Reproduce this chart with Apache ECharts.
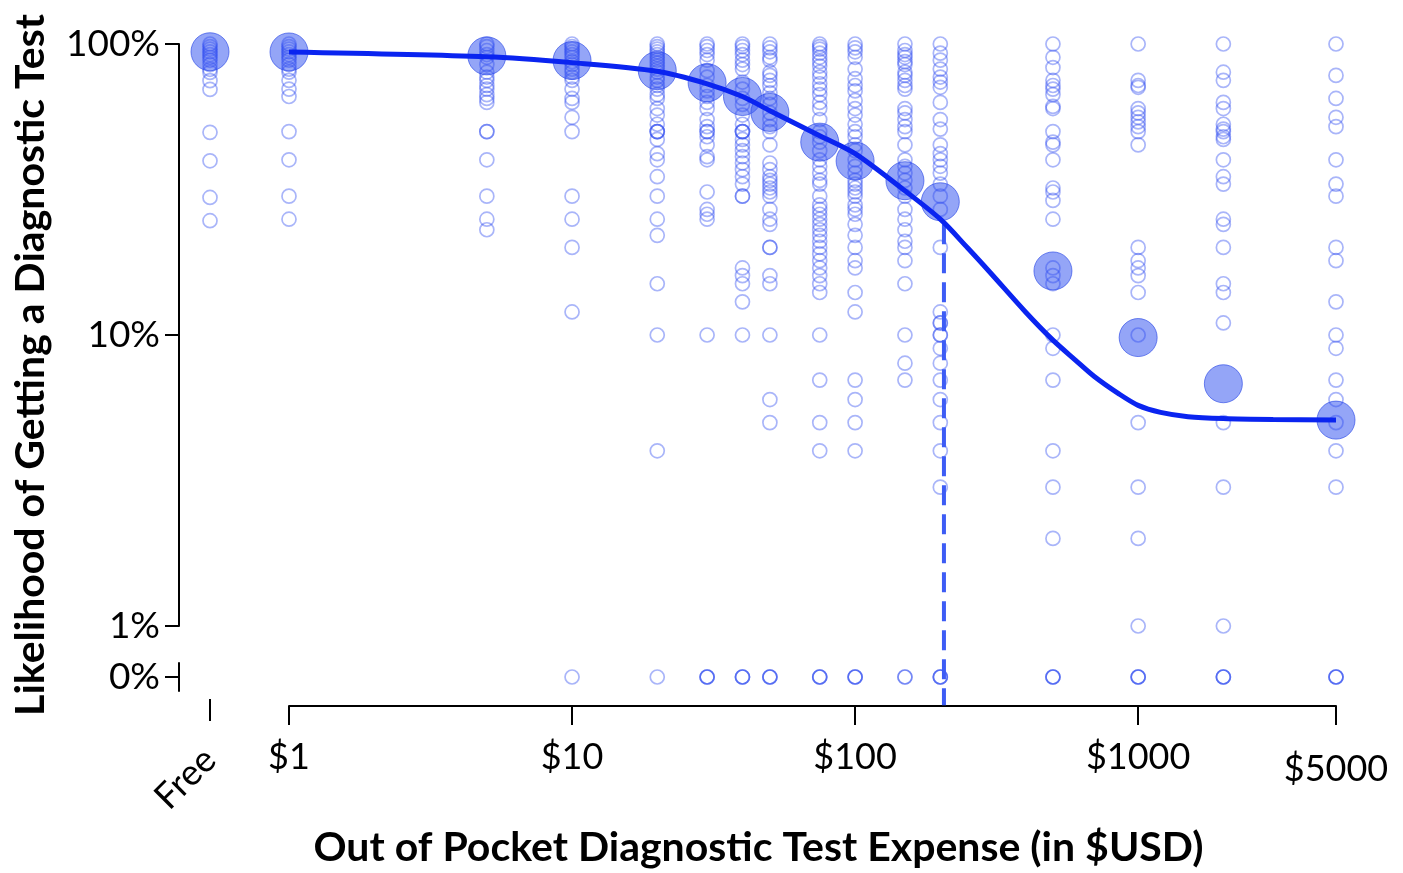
<!DOCTYPE html>
<html>
<head>
<meta charset="utf-8">
<script src="https://cdn.jsdelivr.net/npm/echarts@6/dist/echarts.min.js"></script>
<style>
html, body { margin: 0; padding: 0; background: #fff; }
#main { width: 1403px; height: 873px; }
</style>
</head>
<body>
<div id="main"></div>
<script>
// price categories (USD), 'Free' sits left of the $1 axis
var PRICES = ['Free', 1, 5, 10, 20, 30, 40, 50, 75, 100, 150, 200, 500, 1000, 2000, 5000];

// individual responses (likelihood %), one array per price
var RESP_FREE = [100, 98, 96, 94, 92, 90, 88, 85, 82, 80, 75, 70, 50, 40, 30, 25];
var RESP_1 = [100, 98, 96, 94, 92, 90, 88, 85, 82, 80, 75, 70, 66, 50, 40, 30, 25];
var RESP_5 = [100, 98, 95, 92, 90, 85, 80, 77, 75, 72, 70, 67, 65, 63, 50, 50, 40, 30, 25, 23];
var RESP_10 = [100, 98, 96, 94, 92, 90, 87, 85, 82, 80, 77, 75, 70, 65, 63, 56, 50, 30, 25, 20, 12, 0];
var RESP_20 = [100, 98, 96, 94, 92, 90, 88, 86, 84, 82, 80, 77, 75, 72, 70, 67, 65, 60, 57, 53, 50, 50, 50, 47, 42, 40, 35, 30, 25, 22, 15, 10, 4, 0];
var RESP_30 = [100, 98, 95, 92, 88, 81, 77, 72, 69, 66, 63, 60, 55, 52, 50, 50, 48, 45, 41, 40, 31, 27, 26, 25, 10, 0, 0, 0];
var RESP_40 = [100, 98, 95, 92, 88, 85, 82, 74, 70, 65, 62, 57, 53, 50, 50, 50, 47, 45, 43, 41, 39, 37, 35, 33, 30, 30, 17, 16, 15, 13, 10, 0, 0, 0];
var RESP_50 = [100, 97, 94, 90, 88, 80, 78, 75, 72, 68, 65, 62, 58, 55, 52, 50, 45, 39, 37, 35, 34, 33, 32, 31, 30, 27, 25, 24, 20, 20, 16, 15, 10, 6, 5, 0, 0, 0];
var RESP_75 = [100, 98, 96, 93, 90, 87, 84, 80, 77, 73, 70, 67, 63, 60, 55, 50, 48, 46, 43, 40, 38, 36, 34, 33, 30, 28, 27, 26, 25, 24, 23, 22, 21, 20, 19, 18, 17, 16, 15, 14, 10, 7, 5, 4, 0, 0, 0];
var RESP_100 = [100, 97, 94, 90, 82, 76, 72, 69, 64, 60, 57, 53, 50, 48, 45, 43, 40, 38, 36, 34, 33, 32, 31, 30, 28, 27, 26, 24, 22, 20, 18, 17, 14, 12, 7, 6, 5, 4, 0, 0, 0];
var RESP_150 = [100, 95, 92, 90, 87, 85, 80, 78, 75, 72, 70, 60, 58, 55, 52, 50, 45, 40, 38, 36, 34, 32, 30, 27, 25, 23, 21, 20, 18, 15, 10, 8, 7, 0, 0];
var RESP_200 = [100, 93, 88, 82, 77, 74, 71, 63, 55, 51, 45, 42, 40, 38, 36, 33, 30, 27, 20, 12, 11, 11, 10, 10, 9, 8, 7, 6, 5, 4, 3, 0, 0, 0];
var RESP_500 = [100, 90, 83, 75, 72, 70, 67, 61, 60, 50, 46, 45, 40, 32, 31, 29, 25, 17, 16, 15, 10, 9, 7, 4, 3, 2, 0, 0, 0];
var RESP_1000 = [100, 75, 72, 71, 60, 58, 56, 54, 52, 50, 45, 20, 18, 17, 16, 14, 10, 5, 3, 2, 1, 0, 0, 0];
var RESP_2000 = [100, 80, 75, 63, 60, 53, 51, 50, 48, 47, 40, 35, 33, 25, 24, 20, 15, 14, 11, 5, 3, 1, 0, 0, 0];
var RESP_5000 = [100, 78, 65, 56, 52, 40, 33, 30, 20, 18, 13, 10, 9, 7, 6, 5, 4, 3, 0, 0, 0];

var RESPONSES = [RESP_FREE, RESP_1, RESP_5, RESP_10, RESP_20, RESP_30, RESP_40, RESP_50,
  RESP_75, RESP_100, RESP_150, RESP_200, RESP_500, RESP_1000, RESP_2000, RESP_5000];

// mean likelihood per price (big circles)
var MEANS = [94.1, 93.9, 91, 87.7, 81, 73.6, 66, 58.2, 46, 39.6, 33.9, 28.7, 16.6, 9.8, 6.8, 5.1];

// fitted curve
var FIT_PRICE = [1, 5, 10, 20, 30, 40, 50, 75, 100, 150, 200, 250, 300, 400, 500, 600, 700, 850, 1000, 1200, 1500, 2000, 3000, 5000];
var FIT_LIKELIHOOD = [93.9, 90.4, 86.3, 80.6, 73, 66, 59, 48.4, 42, 31.3, 25, 19.9, 16.4, 12, 9.6, 8.2, 7.2, 6.3, 5.73, 5.42, 5.24, 5.16, 5.12, 5.1];

// dashed threshold line
var THRESHOLD_PRICE = 206;
var THRESHOLD_LIKELIHOOD = 24;
var AXIS_FLOOR = 0.534; // likelihood value level of the x axis line

var FONT = 'Lato';
var BLUE = '#0a24f0';

var mainHollow = [], freeHollow = [], zeroHollow = [];
var mainMean = [], freeMean = [];
PRICES.forEach(function (p, i) {
  RESPONSES[i].forEach(function (v) {
    if (p === 'Free') freeHollow.push(['Free', v]);
    else if (v === 0) zeroHollow.push([p, '0%']);
    else mainHollow.push([p, v]);
  });
  if (p === 'Free') freeMean.push(['Free', MEANS[i]]);
  else mainMean.push([p, MEANS[i]]);
});
var fitData = FIT_PRICE.map(function (p, i) { return [p, FIT_LIKELIHOOD[i]]; });

var black = { color: '#000', width: 2 };

var hollowStyle = { color: 'rgba(0,0,0,0)', borderColor: 'rgba(40,70,240,0.5)', borderWidth: 1.7 };
var meanStyle = { color: 'rgba(65,95,240,0.7)', borderColor: 'rgba(40,70,230,0.8)', borderWidth: 1 };

var myChart = echarts.init(document.getElementById('main'));
var option = {
  animation: false,
  backgroundColor: '#fff',
  grid: [
    { left: 289, right: 67, top: 44, bottom: 242 },   // main
    { left: 200, width: 20, top: 44, bottom: 242 },   // Free column
    { left: 289, right: 67, top: 663, height: 28 }    // 0% row
  ],
  xAxis: [
    {
      gridIndex: 0, type: 'log', min: 1, max: 5000, offset: 80,
      axisLine: { show: true, onZero: false, lineStyle: black },
      axisTick: { show: true, length: 19, lineStyle: black },
      splitLine: { show: false },
      axisLabel: {
        margin: 33, color: '#000', fontFamily: FONT, fontSize: 36,
        showMinLabel: true, showMaxLabel: true,
        formatter: function (v) { return v === 5000 ? '{lo|$5000}' : '$' + v; },
        rich: { lo: { color: '#000', fontFamily: FONT, fontSize: 36, padding: [12, 0, 0, 0] } }
      },
      name: 'Out of Pocket Diagnostic Test Expense (in $USD)',
      nameLocation: 'middle', nameGap: 121, nameMoveOverlap: false,
      nameTextStyle: { color: '#000', fontFamily: FONT, fontSize: 41, fontWeight: 'bold', padding: [0, 108, 0, 0] }
    },
    {
      gridIndex: 1, type: 'category', data: ['Free'], offset: 68,
      axisLine: { show: false, onZero: false },
      axisTick: { show: true, alignWithLabel: true, length: 22, lineStyle: black },
      axisLabel: { rotate: 45, margin: 55, color: '#000', fontFamily: FONT, fontSize: 36 }
    },
    { gridIndex: 2, type: 'log', min: 1, max: 5000, show: false }
  ],
  yAxis: [
    {
      gridIndex: 0, type: 'log', min: 1, max: 100, offset: 110,
      axisLine: { show: true, onZero: false, lineStyle: black },
      axisTick: { show: true, length: 14, lineStyle: black },
      splitLine: { show: false },
      axisLabel: {
        margin: 19, color: '#000', fontFamily: FONT, fontSize: 37,
        formatter: function (v) { return v + '%'; }
      },
      name: 'Likelihood of Getting a Diagnostic Test',
      nameLocation: 'middle', nameGap: 128, nameMoveOverlap: false,
      nameTextStyle: { color: '#000', fontFamily: FONT, fontSize: 41, fontWeight: 'bold', padding: [0, 60, 0, 0] }
    },
    { gridIndex: 1, type: 'log', min: 1, max: 100, show: false },
    {
      gridIndex: 2, type: 'category', data: ['0%'], offset: 110,
      axisLine: { show: true, onZero: false, lineStyle: black },
      axisTick: { show: true, alignWithLabel: true, length: 14, lineStyle: black },
      axisLabel: { margin: 19, color: '#000', fontFamily: FONT, fontSize: 37 }
    }
  ],
  series: [
    { type: 'scatter', xAxisIndex: 0, yAxisIndex: 0, data: mainMean, symbolSize: 38, itemStyle: meanStyle, z: 2 },
    { type: 'scatter', xAxisIndex: 1, yAxisIndex: 1, data: freeMean, symbolSize: 38, itemStyle: meanStyle, z: 2 },
    { type: 'scatter', xAxisIndex: 0, yAxisIndex: 0, data: mainHollow, symbolSize: 14, itemStyle: hollowStyle, z: 3 },
    { type: 'scatter', xAxisIndex: 1, yAxisIndex: 1, data: freeHollow, symbolSize: 14, itemStyle: hollowStyle, z: 3 },
    { type: 'scatter', xAxisIndex: 2, yAxisIndex: 2, data: zeroHollow, symbolSize: 14, itemStyle: hollowStyle, z: 3 },
    {
      type: 'line', xAxisIndex: 0, yAxisIndex: 0, data: fitData, smooth: 0.3,
      showSymbol: false, symbol: 'none', lineStyle: { color: BLUE, width: 5 }, z: 5
    },
    {
      type: 'line', xAxisIndex: 0, yAxisIndex: 0, clip: false,
      data: [[THRESHOLD_PRICE, THRESHOLD_LIKELIHOOD], [THRESHOLD_PRICE, AXIS_FLOOR]],
      showSymbol: false, symbol: 'none',
      lineStyle: { color: '#3d5cf5', width: 4, type: [20, 9] }, z: 4
    }
  ]
};
myChart.setOption(option, true);
window.addEventListener('resize', function () {
  myChart.resize();
});
</script>
</body>
</html>
